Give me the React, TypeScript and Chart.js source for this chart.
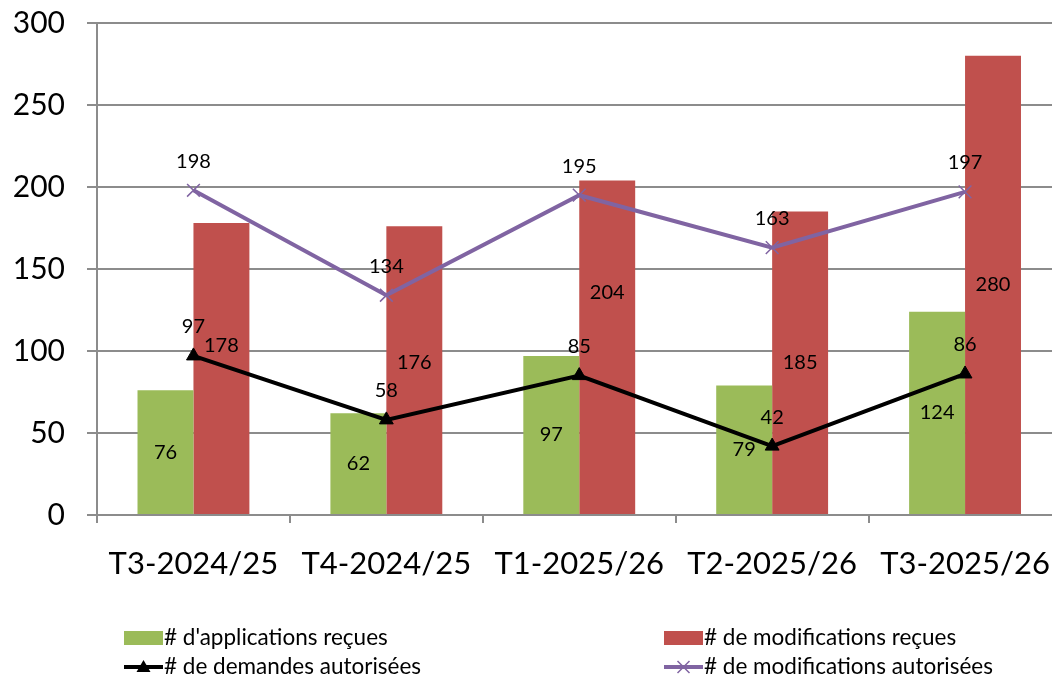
import React, { useEffect, useRef } from 'react';
import { Chart, registerables } from 'chart.js';

Chart.register(...registerables);

const categories = ['T3-2024/25', 'T4-2024/25', 'T1-2025/26', 'T2-2025/26', 'T3-2025/26'];
const applicationsRecues = [76, 62, 97, 79, 124];
const modificationsRecues = [178, 176, 204, 185, 280];
const demandesAutorisees = [97, 58, 85, 42, 86];
const modificationsAutorisees = [198, 134, 195, 163, 197];

const seriesNames = [
  "# d'applications reçues",
  '# de modifications reçues',
  '# de demandes autorisées',
  '# de modifications autorisées',
];

const GREEN = '#9BBB59';
const RED = '#C0504D';
const PURPLE = '#8064A2';
const BLACK = '#000000';
const GRID = '#8c8c8c';
const FONT = 'Lato, "Open Sans", sans-serif';

// vertical nudges (px) of the bar value labels, as placed in the original
const BAR_LABEL_NUDGE: Record<number, number[]> = {
  0: [0, 0, 0, 0, 0],
  1: [-23, -8, -55, 0, 0],
};

const valueLabels = {
  id: 'valueLabels',
  afterDatasetsDraw(chart: any) {
    const ctx = chart.ctx;
    ctx.save();
    ctx.font = `20px ${FONT}`;
    ctx.fillStyle = '#000';
    ctx.textAlign = 'center';
    ctx.textBaseline = 'middle';
    chart.data.datasets.forEach((ds: any, i: number) => {
      const meta = chart.getDatasetMeta(i);
      meta.data.forEach((el: any, j: number) => {
        const v = ds.data[j];
        let y: number;
        if (ds.type === 'bar') {
          y = (el.y + el.base) / 2 + (BAR_LABEL_NUDGE[i] ? BAR_LABEL_NUDGE[i][j] : 0);
        } else {
          y = el.y - 29;
        }
        ctx.fillText(String(v), el.x, y);
      });
    });
    ctx.restore();
  },
};

const customLegend = {
  id: 'customLegend',
  afterDraw(chart: any) {
    const ctx = chart.ctx;
    ctx.save();
    ctx.font = `22.5px ${FONT}`;
    ctx.fillStyle = '#000';
    ctx.textAlign = 'left';
    ctx.textBaseline = 'middle';
    const cols = [124, 664];
    const rows = [638, 667];
    const mw = 39;
    const items = [
      { col: 0, row: 0, kind: 'box', color: GREEN },
      { col: 1, row: 0, kind: 'box', color: RED },
      { col: 0, row: 1, kind: 'tri', color: BLACK },
      { col: 1, row: 1, kind: 'cross', color: PURPLE },
    ];
    items.forEach((it, k) => {
      const x = cols[it.col];
      const y = rows[it.row];
      if (it.kind === 'box') {
        ctx.fillStyle = it.color;
        ctx.fillRect(x, y - 7, mw, 14);
      } else {
        ctx.strokeStyle = it.color;
        ctx.lineWidth = 4;
        ctx.beginPath();
        ctx.moveTo(x, y);
        ctx.lineTo(x + mw, y);
        ctx.stroke();
        const cx = x + mw / 2;
        if (it.kind === 'tri') {
          ctx.fillStyle = it.color;
          ctx.beginPath();
          ctx.moveTo(cx, y - 7);
          ctx.lineTo(cx + 7, y + 5);
          ctx.lineTo(cx - 7, y + 5);
          ctx.closePath();
          ctx.fill();
        } else {
          ctx.lineWidth = 1.5;
          ctx.beginPath();
          ctx.moveTo(cx - 6, y - 6);
          ctx.lineTo(cx + 6, y + 6);
          ctx.moveTo(cx + 6, y - 6);
          ctx.lineTo(cx - 6, y + 6);
          ctx.stroke();
        }
      }
      ctx.fillStyle = '#000';
      ctx.fillText(seriesNames[k], x + mw + 1, y);
    });
    ctx.restore();
  },
};

export default function App() {
  const ref = useRef<HTMLCanvasElement | null>(null);

  useEffect(() => {
    if (!ref.current) return;
    const chart = new Chart(ref.current, {
      type: 'bar',
      data: {
        labels: categories,
        datasets: [
          { type: 'bar', label: seriesNames[0], data: applicationsRecues, backgroundColor: GREEN, borderWidth: 0, order: 2 },
          { type: 'bar', label: seriesNames[1], data: modificationsRecues, backgroundColor: RED, borderWidth: 0, order: 2 },
          {
            type: 'line', label: seriesNames[2], data: demandesAutorisees,
            borderColor: BLACK, backgroundColor: BLACK, borderWidth: 4,
            pointStyle: 'triangle', pointRadius: 8, pointBorderWidth: 1, pointBackgroundColor: BLACK,
            tension: 0, order: 1,
          },
          {
            type: 'line', label: seriesNames[3], data: modificationsAutorisees,
            borderColor: PURPLE, backgroundColor: PURPLE, borderWidth: 4,
            pointStyle: 'crossRot', pointRadius: 9, pointBorderWidth: 1.5, pointBorderColor: PURPLE,
            tension: 0, order: 0,
          },
        ] as any,
      },
      options: {
        responsive: false,
        animation: false,
        events: [],
        layout: { padding: { top: 23, left: 0, right: 0, bottom: 84 } },
        datasets: { bar: { categoryPercentage: 0.58, barPercentage: 1 } },
        plugins: { legend: { display: false }, tooltip: { enabled: false }, title: { display: false } },
        scales: {
          x: {
            offset: true,
            grid: { offset: true, drawOnChartArea: false, drawTicks: true, tickLength: 8, color: GRID, lineWidth: 2 },
            border: { display: true, color: GRID, width: 2 },
            ticks: { color: '#000', font: { family: FONT, size: 31 }, padding: 22, maxRotation: 0, autoSkip: false },
            afterFit: (scale: any) => {
              scale.height = 80;
              scale.paddingLeft = 0;
              scale.paddingRight = 0;
            },
          },
          y: {
            min: 0,
            max: 300,
            ticks: { stepSize: 50, color: '#000', font: { family: FONT, size: 30 }, padding: 22 },
            grid: { color: GRID, lineWidth: 2, tickLength: 10, drawTicks: true },
            border: { display: true, color: GRID, width: 2 },
            afterFit: (scale: any) => {
              scale.width = 97;
              scale.paddingTop = 0;
              scale.paddingBottom = 0;
            },
          },
        },
      },
      plugins: [valueLabels, customLegend],
    });
    return () => chart.destroy();
  }, []);

  return (
    <div style={{ position: 'fixed', left: 0, top: 0, width: 1072, height: 679, overflow: 'hidden', background: '#fff' }}>
      <canvas ref={ref} width={1072} height={679} style={{ display: 'block', width: 1072, height: 679 }} />
    </div>
  );
}
